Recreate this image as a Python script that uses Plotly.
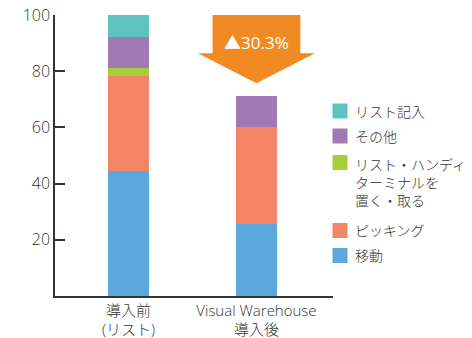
import plotly.graph_objects as go

# ---- data ----
categories = ["導入前<br>(リスト)", "Visual Warehouse<br>導入後"]
x_pos = [0, 1]
series_names = ["移動", "ピッキング", "リスト・ハンディ<br>ターミナルを<br>置く・取る", "その他", "リスト記入"]
idou = [44.5, 25.7]
picking = [33.7, 34.4]
handy = [2.8, 0.0]
sonota = [11.0, 11.0]
kinyu = [8.0, 0.0]
y_ticks = [20, 40, 60, 80, 100]
reduction_label = "▲30.3%"

colors = ["#5BA8DC", "#F58567", "#A6CE3A", "#A079B5", "#5EC4BF"]
series_values = [idou, picking, handy, sonota, kinyu]

FONT = "Open Sans, Noto Sans CJK JP, sans-serif"
TXT = "#333333"

fig = go.Figure()
for name, vals, col in zip(series_names, series_values, colors):
    fig.add_trace(go.Bar(x=x_pos, y=vals, name=name, marker=dict(color=col, line=dict(width=0)),
                         width=0.32, showlegend=False))

fig.update_layout(
    barmode="stack",
    width=472, height=338,
    margin=dict(l=55, r=139, t=15, b=42),
    paper_bgcolor="white", plot_bgcolor="white",
    font=dict(family=FONT, color=TXT, size=15, weight=300),
    xaxis=dict(range=[-0.574, 1.598], tickvals=x_pos, ticktext=categories, showline=True,
               linecolor="#333333", linewidth=1.5, showgrid=False, zeroline=False, ticks="",
               automargin=False, tickfont=dict(size=15, color=TXT, weight=300)),
    yaxis=dict(range=[0, 100], tickvals=y_ticks, showline=True, linecolor="#333333", linewidth=1.5,
               ticks="inside", ticklen=10, tickwidth=1.5, tickcolor="#333333", showgrid=False,
               automargin=False, zeroline=False, tickfont=dict(size=16, color=TXT, weight=300)),
)

# ---- reduction arrow over second bar ----
xc = x_pos[1]
top = 100
neck = 86.4
tip = 75.7
hw_rect = 0.343
hw_head = 0.457
path = (f"M {xc-hw_rect},{top} L {xc+hw_rect},{top} L {xc+hw_rect},{neck} L {xc+hw_head},{neck} "
        f"L {xc},{tip} L {xc-hw_head},{neck} L {xc-hw_rect},{neck} Z")
fig.add_shape(type="path", path=path, xref="x", yref="y", fillcolor="#F28A23", line=dict(width=0))
fig.add_annotation(x=xc, y=90.3, xref="x", yref="y", text=reduction_label, showarrow=False,
                   font=dict(size=17, color="white", family=FONT, weight=500))

# ---- custom legend (top to bottom) ----
def py(p):
    return (296.0 - p) / 281.0

def px(p):
    return (p - 55.0) / 278.0

legend_rows = [(4, 111), (3, 136), (2, 162.5), (1, 230.5), (0, 255.5)]
for idx, cy in legend_rows:
    fig.add_shape(type="rect", xref="paper", yref="paper",
                  x0=px(332.5), x1=px(347.5), y0=py(cy + 7.5), y1=py(cy - 7.5),
                  fillcolor=colors[idx], line=dict(width=0))
    nlines = series_names[idx].count("<br>") + 1
    if nlines == 1:
        fig.add_annotation(x=px(353), y=py(cy), xref="paper", yref="paper", text=series_names[idx],
                           showarrow=False, xanchor="left", yanchor="middle", align="left",
                           font=dict(size=14, color=TXT, family=FONT, weight=300))
    else:
        fig.add_annotation(x=px(353), y=py(cy - 10), xref="paper", yref="paper", text=series_names[idx],
                           showarrow=False, xanchor="left", yanchor="top", align="left",
                           font=dict(size=14, color=TXT, family=FONT, weight=300))

fig.write_html("out.html")
